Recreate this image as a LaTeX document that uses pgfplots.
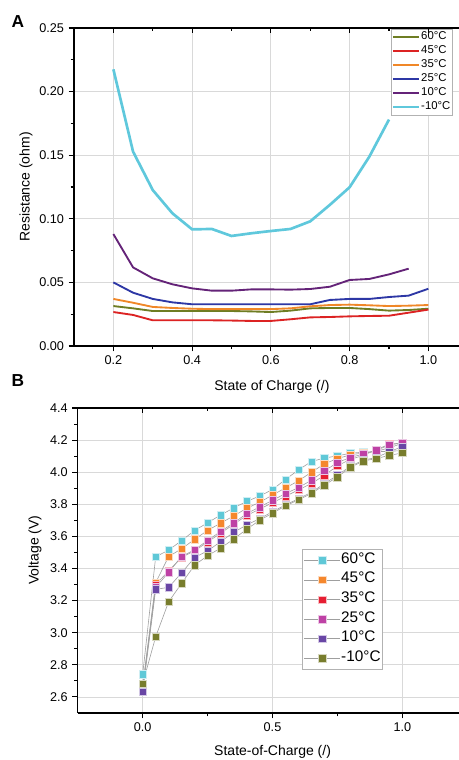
\documentclass[border=0pt]{standalone}
\usepackage{fontspec}
\setmainfont{Liberation Sans}
\usepackage{pgfplots}
\usepackage{pgfplotstable}
\pgfplotsset{compat=1.18}

\definecolor{olA}{RGB}{110,125,35}
\definecolor{reA}{RGB}{220,35,35}
\definecolor{orA}{RGB}{240,135,40}
\definecolor{blA}{RGB}{45,55,165}
\definecolor{puA}{RGB}{100,35,120}
\definecolor{cyA}{RGB}{95,200,220}

\definecolor{cyB}{RGB}{95,200,215}
\definecolor{orB}{RGB}{245,135,45}
\definecolor{reB}{RGB}{230,30,50}
\definecolor{maB}{RGB}{190,65,165}
\definecolor{puB}{RGB}{105,70,165}
\definecolor{olB}{RGB}{120,125,45}

\pgfplotstableread{
s    t60   t45   t35   t25   t10   tm10
0.00 2.742 2.665 2.660 2.655 2.632 2.683
0.05 3.473 3.312 3.300 3.283 3.270 2.975
0.10 3.515 3.475 3.385 3.377 3.283 3.193
0.15 3.574 3.523 3.470 3.475 3.373 3.308
0.20 3.637 3.582 3.510 3.517 3.469 3.421
0.25 3.685 3.637 3.565 3.575 3.510 3.480
0.30 3.733 3.683 3.620 3.631 3.567 3.527
0.35 3.777 3.727 3.675 3.683 3.625 3.583
0.40 3.818 3.775 3.730 3.742 3.671 3.644
0.45 3.851 3.812 3.770 3.783 3.710 3.700
0.50 3.892 3.858 3.810 3.825 3.754 3.745
0.55 3.955 3.902 3.850 3.867 3.796 3.790
0.60 4.014 3.946 3.890 3.904 3.835 3.828
0.65 4.067 4.000 3.930 3.950 3.875 3.868
0.70 4.088 4.052 3.980 4.008 3.929 3.920
0.75 4.102 4.085 4.040 4.060 3.981 3.970
0.80 4.118 4.108 4.080 4.092 4.037 4.030
0.85 4.125 4.120 4.105 4.113 4.075 4.070
0.90 4.128 4.130 4.140 4.137 4.092 4.085
0.95 4.130 4.152 4.175 4.169 4.127 4.105
1.00 4.135 4.180 4.182 4.183 4.160 4.120
}\dataB

\pgfplotsset{
  myax/.style={scale only axis, anchor=south west,
    axis x line*=bottom, axis y line*=left,
    axis line style={-, line width=0.9pt},
    tick align=outside, tick style={black, line width=0.8pt},
    major tick length=4pt, minor tick length=2.5pt,
    grid=major, major grid style={gray!30, line width=0.6pt},
    tick label style={font=\fontsize{9.5}{11}\selectfont},
    label style={font=\fontsize{10.5}{12}\selectfont},
    /pgf/number format/assume math mode=true},
  topax/.style={scale only axis, anchor=south west,
    axis x line*=top, hide y axis,
    axis line style={-, line width=0.9pt},
    tick align=inside, tick style={black, line width=0.8pt},
    major tick length=4pt, minor tick length=2.5pt,
    xticklabels={}},
  bplot/.style={draw=gray!75, line width=0.45pt, mark=square*,
    mark size=2.8pt, mark options={fill=#1, draw=white!70!#1, line width=0.3pt}},
}

\begin{document}
\begin{tikzpicture}
\path[use as bounding box] (0,0) rectangle (344.25pt,570pt);

% ---------------- Panel A ----------------
\begin{axis}[myax, at={(55.5pt,310.5pt)}, width=288.75pt, height=238.5pt,
  xmin=0.1, xmax=1.0778, ymin=0, ymax=0.25,
  xtick={0.2,0.4,0.6,0.8,1.0}, ytick={0,0.05,0.10,0.15,0.20,0.25},
  minor x tick num=1, minor y tick num=1,
  xticklabel style={/pgf/number format/.cd, fixed, fixed zerofill, precision=1},
  yticklabel style={/pgf/number format/.cd, fixed, fixed zerofill, precision=2},
  xlabel={State of Charge (/)}, ylabel={Resistance (ohm)},
  xlabel style={at={(axis description cs:0.514,-0.129)}, anchor=center},
  ylabel style={at={(axis description cs:-0.1247,0.5)}, anchor=center},
  legend style={at={(0.982,0.997)}, anchor=north east, draw=gray!60,
    font=\fontsize{8.5}{9}\selectfont, inner sep=0.6pt, row sep=0pt,
    nodes={inner sep=0.5pt, text height=6.8pt, text depth=2.7pt}},
  legend cell align=left,
  legend image code/.code={\draw[#1] (0pt,0pt) -- (19.5pt,0pt);},
]
\addplot[olA, line width=1.4pt] coordinates {(0.2,0.0314)(0.25,0.0296)(0.3,0.0275)(0.35,0.0275)(0.4,0.0275)(0.45,0.0275)(0.5,0.0275)(0.55,0.0272)(0.6,0.0267)(0.65,0.0278)(0.7,0.0296)(0.75,0.0299)(0.8,0.0299)(0.85,0.029)(0.9,0.0278)(0.95,0.0283)(1.0,0.0293)};
\addlegendentry{60°C}
\addplot[reA, line width=1.4pt] coordinates {(0.2,0.0267)(0.25,0.0244)(0.3,0.0202)(0.35,0.0202)(0.4,0.0202)(0.45,0.0202)(0.5,0.0200)(0.55,0.0197)(0.6,0.0197)(0.65,0.0210)(0.7,0.0225)(0.75,0.0228)(0.8,0.0233)(0.85,0.0236)(0.9,0.0238)(0.95,0.0262)(1.0,0.0286)};
\addlegendentry{45°C}
\addplot[orA, line width=1.4pt] coordinates {(0.2,0.037)(0.25,0.034)(0.3,0.0307)(0.35,0.0299)(0.4,0.0293)(0.45,0.029)(0.5,0.029)(0.55,0.029)(0.6,0.029)(0.65,0.0296)(0.7,0.0312)(0.75,0.0322)(0.8,0.0325)(0.85,0.032)(0.9,0.0314)(0.95,0.0317)(1.0,0.0322)};
\addlegendentry{35°C}
\addplot[blA, line width=1.4pt] coordinates {(0.2,0.050)(0.25,0.0419)(0.3,0.037)(0.35,0.0343)(0.4,0.0328)(0.45,0.0328)(0.5,0.0328)(0.55,0.0328)(0.6,0.0328)(0.65,0.0328)(0.7,0.0328)(0.75,0.0362)(0.8,0.037)(0.85,0.037)(0.9,0.0385)(0.95,0.0396)(1.0,0.045)};
\addlegendentry{25°C}
\addplot[puA, line width=1.4pt] coordinates {(0.2,0.088)(0.25,0.0618)(0.3,0.0532)(0.35,0.0485)(0.4,0.0453)(0.45,0.0435)(0.5,0.0435)(0.55,0.0445)(0.6,0.0445)(0.65,0.0443)(0.7,0.0448)(0.75,0.0466)(0.8,0.0519)(0.85,0.0527)(0.9,0.0563)(0.95,0.0608)};
\addlegendentry{10°C}
\addplot[cyA, line width=2pt] coordinates {(0.2,0.2175)(0.25,0.1528)(0.3,0.1226)(0.35,0.1043)(0.4,0.0917)(0.45,0.092)(0.5,0.0865)(0.55,0.0886)(0.6,0.0904)(0.65,0.092)(0.7,0.098)(0.75,0.111)(0.8,0.1248)(0.85,0.1488)(0.9,0.178)};
\addlegendentry{-10°C}
\end{axis}
\begin{axis}[topax, at={(55.5pt,310.5pt)}, width=288.75pt, height=238.5pt,
  xmin=0.1, xmax=1.0778, ymin=0, ymax=0.25,
  xtick={0.2,0.4,0.6,0.8,1.0}, minor x tick num=1]
\end{axis}

% ---------------- Panel B ----------------
\begin{axis}[myax, at={(58.35pt,35.25pt)}, width=285.9pt, height=228.75pt,
  xmin=-0.25, xmax=1.2184, ymin=2.5, ymax=4.4,
  xtick={0,0.5,1.0}, ytick={2.6,2.8,...,4.41},
  minor x tick num=1, minor y tick num=1,
  xticklabel style={/pgf/number format/.cd, fixed, fixed zerofill, precision=1},
  yticklabel style={/pgf/number format/.cd, fixed, fixed zerofill, precision=1},
  xlabel={State-of-Charge (/)}, ylabel={Voltage (V)},
  xlabel style={at={(axis description cs:0.511,-0.128)}, anchor=center},
  ylabel style={at={(axis description cs:-0.112,0.534)}, anchor=center},
  legend style={at={(0.8006,0.538)}, anchor=north east, draw=gray!60,
    font=\fontsize{11.5}{13}\selectfont, inner sep=1pt, row sep=0pt,
    nodes={inner sep=0.6pt, text height=9pt, text depth=4.5pt}},
  legend cell align=left,
  legend image code/.code={\draw[mark repeat=2,mark phase=2,#1] plot coordinates {(0pt,0pt) (13.5pt,0pt) (27pt,0pt)};},
]
\addplot[bplot=cyB] table[x=s, y=t60] {\dataB};
\addlegendentry{60°C}
\addplot[bplot=orB] table[x=s, y=t45] {\dataB};
\addlegendentry{45°C}
\addplot[bplot=reB] table[x=s, y=t35] {\dataB};
\addlegendentry{35°C}
\addplot[bplot=maB] table[x=s, y=t25] {\dataB};
\addlegendentry{25°C}
\addplot[bplot=puB] table[x=s, y=t10] {\dataB};
\addlegendentry{10°C}
\addplot[bplot=olB] table[x=s, y=tm10] {\dataB};
\addlegendentry{-10°C}
\end{axis}
\begin{axis}[topax, at={(58.35pt,35.25pt)}, width=285.9pt, height=228.75pt,
  xmin=-0.25, xmax=1.2184, ymin=2.5, ymax=4.4,
  xtick={0,0.5,1.0}, minor x tick num=1]
\end{axis}

\node[font=\fontsize{13}{14}\selectfont\bfseries] at (13.5pt,553.5pt) {A};
\node[font=\fontsize{13}{14}\selectfont\bfseries] at (13.5pt,284.5pt) {B};
\end{tikzpicture}
\end{document}
